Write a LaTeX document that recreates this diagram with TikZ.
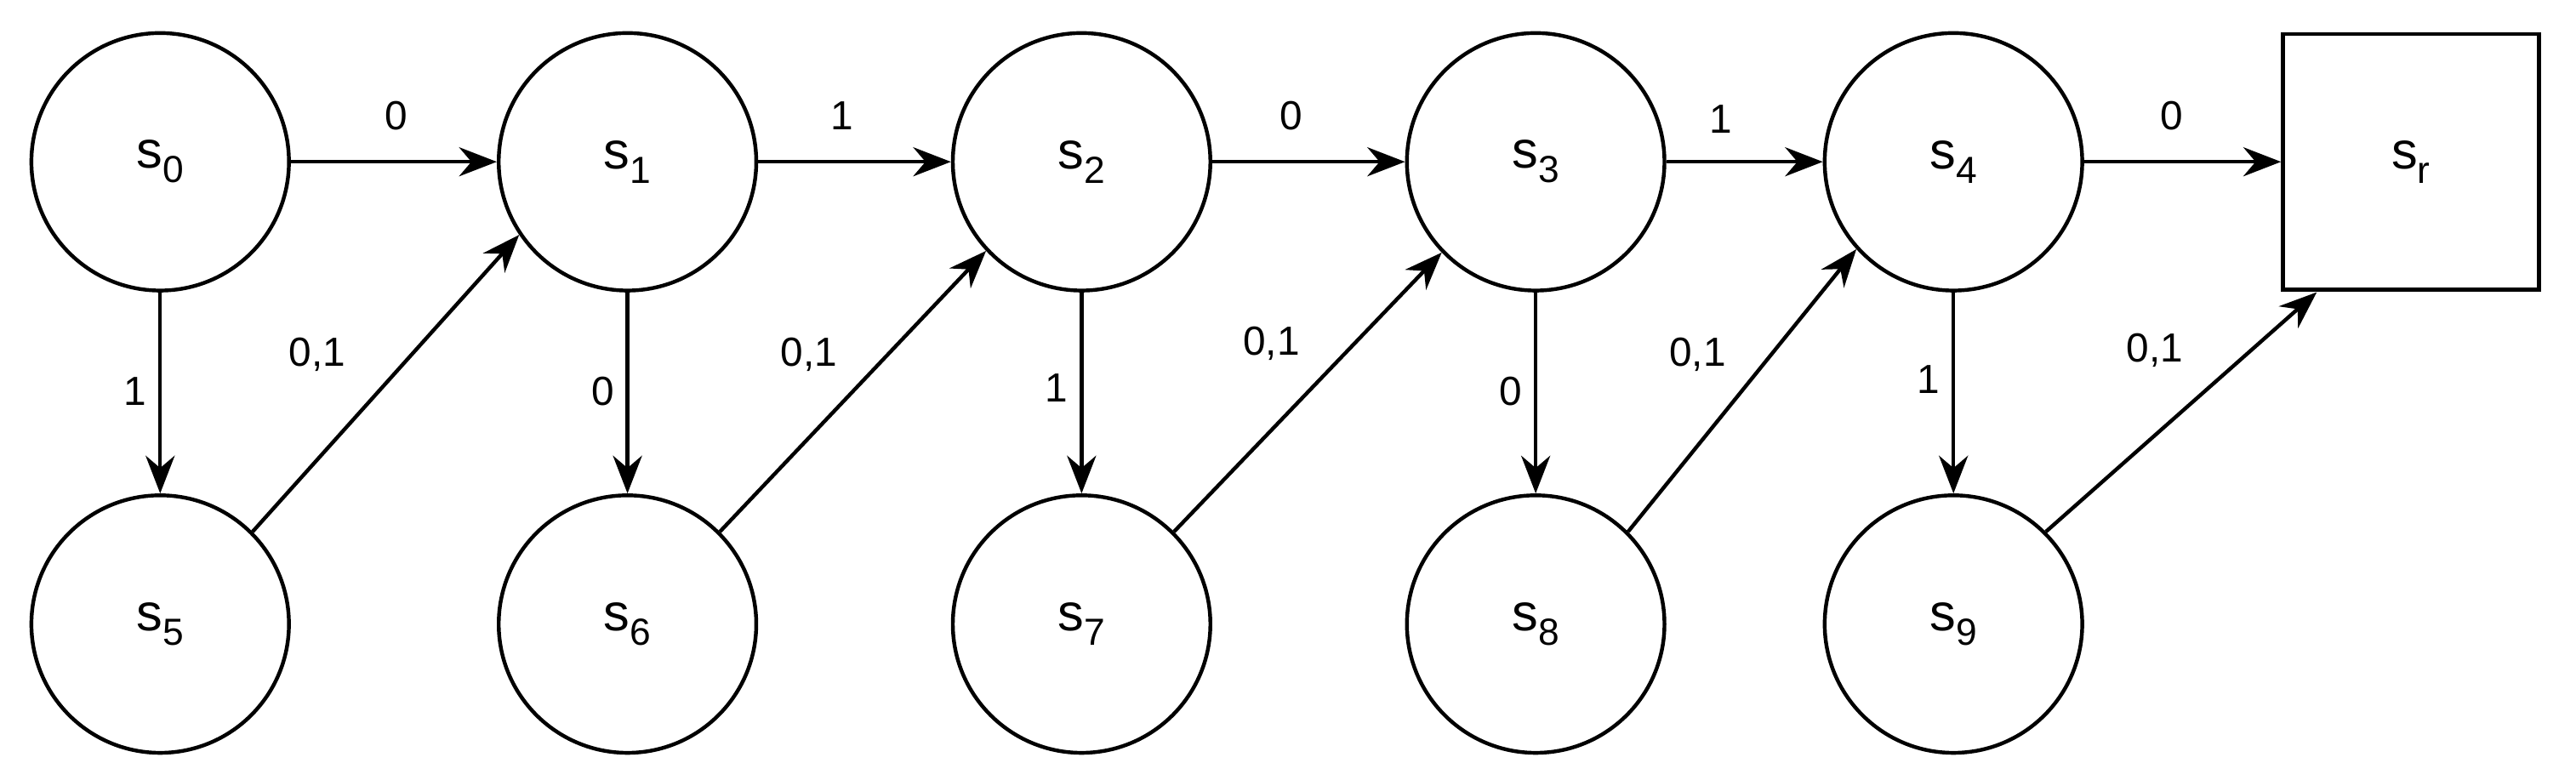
\documentclass[tikz,border=0pt]{standalone}
\usepackage{fontspec}
\setmainfont{Liberation Sans}
\usetikzlibrary{arrows.meta}
\newcommand{\sub}[1]{s\raisebox{-5pt}{\fontsize{13}{15}\selectfont #1}}
\begin{document}
\begin{tikzpicture}[x=0.02cm,y=-0.02cm,
 st/.style={circle,draw,line width=1.3pt,minimum size=3.12cm,inner sep=0pt,font=\fontsize{18}{20}\selectfont},
 sq/.style={rectangle,draw,line width=1.3pt,minimum size=3.1cm,inner sep=0pt,font=\fontsize{18}{20}\selectfont},
 ar/.style={line width=1.3pt,-{Stealth[length=13pt,width=10pt]}},
 lb/.style={font=\fontsize{14}{16}\selectfont}]
\useasboundingbox (0,0) rectangle (1560,472);
\node[st] (s0) at (97,98) {\sub{0}};
\node[st] (s1) at (380,98) {\sub{1}};
\node[st] (s2) at (655,98) {\sub{2}};
\node[st] (s3) at (930,98) {\sub{3}};
\node[st] (s4) at (1183,98) {\sub{4}};
\node[sq] (sr) at (1460,98) {\sub{r}};
\node[st] (s5) at (97,378) {\sub{5}};
\node[st] (s6) at (380,378) {\sub{6}};
\node[st] (s7) at (655,378) {\sub{7}};
\node[st] (s8) at (930,378) {\sub{8}};
\node[st] (s9) at (1183,378) {\sub{9}};
\draw[ar] (s0) -- (s1);
\draw[ar] (s1) -- (s2);
\draw[ar] (s2) -- (s3);
\draw[ar] (s3) -- (s4);
\draw[ar] (s4) -- (sr);
\draw[ar] (s0) -- (s5);
\draw[ar] (s1) -- (s6);
\draw[ar] (s2) -- (s7);
\draw[ar] (s3) -- (s8);
\draw[ar] (s4) -- (s9);
\draw[ar] (s5.45) -- (s1.214);
\draw[ar] (s6.45) -- (s2.223);
\draw[ar] (s7.45) -- (s3.224);
\draw[ar] (s8.45) -- (s4.222);
\coordinate (srb) at (1403,177);
\draw[ar] (s9.45) -- (srb);
\node[lb] (l1) at (240,70) {0};
\node[lb] (l2) at (510,70) {1};
\node[lb] (l3) at (782,70) {0};
\node[lb] (l4) at (1042,72) {1};
\node[lb] (l5) at (1315,70) {0};
\node[lb] (l6) at (82,237) {1};
\node[lb] (l7) at (365,237) {0};
\node[lb] (l8) at (640,235) {1};
\node[lb] (l9) at (915,237) {0};
\node[lb] (l10) at (1168,230) {1};
\node[lb] (m1) at (192,215) {0,1};
\node[lb] (m2) at (490,215) {0,1};
\node[lb] (m3) at (770,208) {0,1};
\node[lb] (m4) at (1028,215) {0,1};
\node[lb] (m5) at (1305,212) {0,1};
\end{tikzpicture}
\end{document}
